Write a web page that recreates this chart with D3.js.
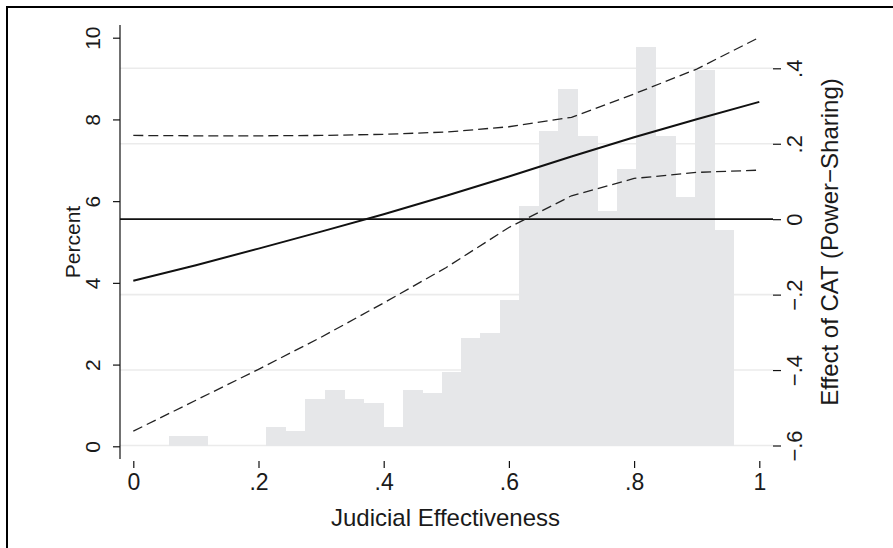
<!DOCTYPE html>
<html lang="en">
<head>
<meta charset="utf-8">
<script src="https://d3js.org/d3.v7.min.js"></script>
<style>
  body { margin: 0; background: #fff; }
  text { font-family: "Liberation Sans", Arial, Helvetica, sans-serif; fill: #1a1a1a; }
</style>
</head>
<body>
<script>

// histogram of judicial effectiveness (percent per bin)
var binEdges = [0.0570, 0.0881, 0.1192, 0.1503, 0.1814, 0.2125, 0.2436, 0.2747, 0.3058, 0.3369,
                0.3680, 0.3991, 0.4302, 0.4613, 0.4924, 0.5235, 0.5546, 0.5857, 0.6168, 0.6479,
                0.6790, 0.7101, 0.7412, 0.7723, 0.8034, 0.8345, 0.8656, 0.8967, 0.9278, 0.9589];
var binPct = [0.25, 0.25, 0, 0, 0, 0.48, 0.37, 1.16, 1.39, 1.16,
              1.05, 0.48, 1.39, 1.30, 1.83, 2.64, 2.77, 3.58, 5.88, 7.72,
              8.74, 7.60, 5.76, 6.79, 9.78, 7.60, 6.10, 9.21, 5.29];

// marginal effect of CAT with confidence band
var effX  = [0, 0.1, 0.2, 0.3, 0.4, 0.5, 0.6, 0.7, 0.8, 0.9, 1];
var effMid = [-0.163, -0.122, -0.078, -0.033, 0.013, 0.062, 0.113, 0.166, 0.217, 0.265, 0.311];
var effHi  = [0.222, 0.221, 0.221, 0.222, 0.225, 0.231, 0.245, 0.270, 0.332, 0.398, 0.482];
var effLo  = [-0.562, -0.480, -0.398, -0.313, -0.222, -0.128, -0.022, 0.062, 0.108, 0.124, 0.130];

var xTicks = [0, 0.2, 0.4, 0.6, 0.8, 1];
var xTickLabels = ["0", ".2", ".4", ".6", ".8", "1"];
var pctTicks = [0, 2, 4, 6, 8, 10];
var effTicks = [-0.6, -0.4, -0.2, 0, 0.2, 0.4];
var effTickLabels = ["\u2212.6", "\u2212.4", "\u2212.2", "0", ".2", ".4"];

var w = 893, h = 548;
var plotL = 120, plotR = 773, plotT = 25, plotB = 459;

var svg = d3.select("body").append("svg")
  .attr("width", w).attr("height", h);

// outer frame
svg.append("rect")
  .attr("x", 7).attr("y", 7).attr("width", 920).attr("height", 600)
  .attr("fill", "none").attr("stroke", "#000").attr("stroke-width", 2);

var x = d3.scaleLinear().domain([0, 1]).range([133.3, 759.3]);
var yL = d3.scaleLinear().domain([0, 10]).range([446.3, 37.7]);
var yR = d3.scaleLinear().domain([-0.6, 0.4]).range([445.5, 68.3]);

// gridlines off the right axis
svg.append("g").selectAll("line")
  .data(effTicks.filter(function(d){ return d != 0; }))
  .enter().append("line")
  .attr("x1", plotL).attr("x2", plotR)
  .attr("y1", function(d){ return yR(d); })
  .attr("y2", function(d){ return yR(d); })
  .attr("stroke", "#ebebeb").attr("stroke-width", 1.6);

// histogram bars
svg.append("g").selectAll("rect")
  .data(binPct)
  .enter().append("rect")
  .attr("x", function(d, i){ return x(binEdges[i]); })
  .attr("width", function(d, i){ return x(binEdges[i+1]) - x(binEdges[i]) + 0.5; })
  .attr("y", function(d){ return yL(d); })
  .attr("height", function(d){ return yL(0) - yL(d); })
  .attr("fill", "#e6e7e9")
  .attr("shape-rendering", "crispEdges");

// zero reference line
svg.append("line")
  .attr("x1", plotL).attr("x2", plotR)
  .attr("y1", yR(0)).attr("y2", yR(0))
  .attr("stroke", "#111").attr("stroke-width", 1.8);

var line = function(vals){
  return d3.line()
    .x(function(d, i){ return x(effX[i]); })
    .y(function(d){ return yR(d); })(vals);
};

svg.append("path").attr("d", line(effHi))
  .attr("fill", "none").attr("stroke", "#222").attr("stroke-width", 1.3)
  .attr("stroke-dasharray", "10,5");
svg.append("path").attr("d", line(effLo))
  .attr("fill", "none").attr("stroke", "#222").attr("stroke-width", 1.3)
  .attr("stroke-dasharray", "10,5");
svg.append("path").attr("d", line(effMid))
  .attr("fill", "none").attr("stroke", "#111").attr("stroke-width", 2);

// left axis (Percent)
svg.append("line")
  .attr("x1", plotL).attr("x2", plotL).attr("y1", plotT).attr("y2", plotB)
  .attr("stroke", "#111").attr("stroke-width", 1.2);

var gL = svg.append("g").attr("transform", "translate(" + plotL + ",0)")
  .call(d3.axisLeft(yL).tickValues(pctTicks).tickSize(7).tickFormat(d3.format("d")));
gL.select(".domain").remove();
gL.selectAll("line").attr("stroke", "#111").attr("stroke-width", 1.2);
gL.selectAll("text")
  .attr("x", null).attr("dy", null)
  .attr("text-anchor", "middle")
  .attr("transform", "translate(-20,0) rotate(-90)")
  .style("font-size", "21px").attr("fill", "#1a1a1a");

// right axis (effect)
var gR = svg.append("g").attr("transform", "translate(" + plotR + ",0)")
  .call(d3.axisRight(yR).tickValues(effTicks).tickSize(8)
    .tickFormat(function(d, i){ return effTickLabels[i]; }));
gR.select(".domain").remove();
gR.selectAll("line").attr("stroke", "#111").attr("stroke-width", 1.2);
gR.selectAll("text")
  .attr("x", null).attr("dy", null)
  .attr("text-anchor", "middle")
  .attr("transform", "translate(29,0) rotate(-90)")
  .style("font-size", "22px").attr("fill", "#1a1a1a");

// bottom axis
var gB = svg.append("g").attr("transform", "translate(0," + (plotB + 2) + ")")
  .call(d3.axisBottom(x).tickValues(xTicks).tickSize(7)
    .tickFormat(function(d, i){ return xTickLabels[i]; }));
gB.select(".domain").remove();
gB.selectAll("line").attr("stroke", "#111").attr("stroke-width", 1.2);
gB.selectAll("text")
  .attr("y", 29).attr("dy", null)
  .style("font-size", "23px").attr("fill", "#1a1a1a");

// axis titles
svg.append("text")
  .attr("transform", "translate(80," + ((plotT + plotB) / 2) + ") rotate(-90)")
  .attr("text-anchor", "middle")
  .style("font-size", "21px")
  .text("Percent");

svg.append("text")
  .attr("transform", "translate(838," + ((plotT + plotB) / 2) + ") rotate(-90)")
  .attr("text-anchor", "middle")
  .style("font-size", "24px")
  .text("Effect of CAT (Power\u2212Sharing)");

svg.append("text")
  .attr("x", 445.5).attr("y", 526)
  .attr("text-anchor", "middle")
  .style("font-size", "24px")
  .text("Judicial Effectiveness");

</script>
</body>
</html>
